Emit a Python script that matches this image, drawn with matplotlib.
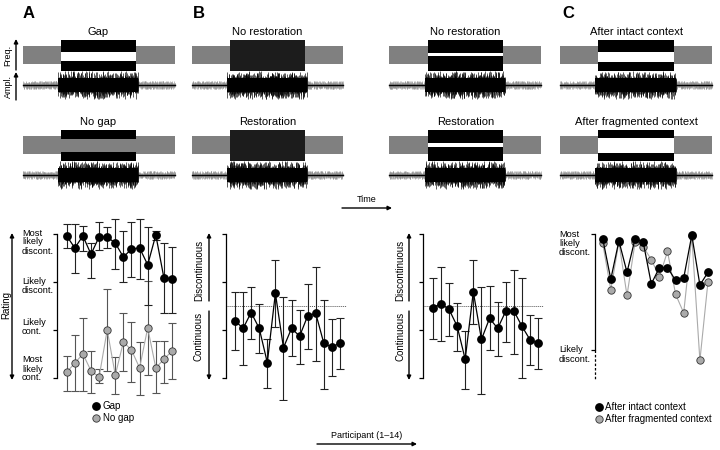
import numpy as np
import matplotlib
matplotlib.use('Agg')
import matplotlib.pyplot as plt
from matplotlib.patches import Rectangle
from matplotlib.lines import Line2D

plt.rcParams['font.family'] = ['Liberation Sans', 'DejaVu Sans']

W, H = 720, 450
participants = np.arange(1, 15)

# ---------------- data ----------------
# Panel A: rating scale 1 = most likely cont. ... 4 = most likely discont.
gap_mean = [3.96, 3.71, 3.96, 3.58, 3.94, 3.94, 3.81, 3.52, 3.69, 3.71, 3.36, 3.98, 3.09, 3.07]
gap_hi = [4.21, 4.21, 4.17, 3.81, 4.25, 4.15, 4.31, 4.06, 4.25, 4.31, 4.15, 4.06, 3.81, 3.73]
gap_lo = [3.71, 3.19, 3.65, 3.09, 3.67, 3.71, 3.27, 3.00, 3.11, 3.07, 2.53, 3.88, 2.36, 2.36]
nogap_mean = [1.13, 1.32, 1.51, 1.16, 1.03, 2.01, 1.07, 1.76, 1.59, 1.22, 2.05, 1.22, 1.40, 1.57]
nogap_hi = [1.47, 1.90, 2.26, 1.57, 1.20, 2.86, 1.45, 2.36, 2.17, 1.76, 3.02, 1.78, 1.78, 2.15]
nogap_lo = [0.74, 0.74, 0.74, 0.70, 0.91, 1.16, 0.68, 1.16, 0.93, 0.66, 1.07, 0.70, 0.91, 0.99]

# Panel B (left): restoration, wide-gap stimuli
restL_mean = [2.20, 2.04, 2.37, 2.04, 1.33, 2.77, 1.64, 2.04, 1.88, 2.30, 2.35, 1.73, 1.65, 1.74]
restL_hi = [2.80, 2.80, 2.89, 2.55, 1.81, 3.46, 2.70, 2.62, 2.42, 2.96, 3.32, 2.64, 2.23, 2.26]
restL_lo = [1.60, 1.27, 1.83, 1.52, 0.80, 2.06, 0.55, 1.47, 1.30, 1.61, 1.37, 0.78, 1.05, 1.20]

# Panel B (right): restoration, narrow-gap stimuli
restR_mean = [2.47, 2.55, 2.44, 2.09, 1.40, 2.80, 1.81, 2.25, 2.04, 2.40, 2.40, 2.08, 1.80, 1.73]
restR_hi = [3.08, 3.31, 2.98, 2.56, 1.99, 3.45, 2.89, 2.92, 2.59, 3.01, 3.25, 3.08, 2.32, 2.25]
restR_lo = [1.83, 1.78, 1.89, 1.58, 0.78, 2.13, 0.67, 1.59, 1.47, 1.75, 1.50, 1.00, 1.27, 1.19]

# Panel C: ratings after intact / fragmented context
intact = [3.96, 3.61, 3.94, 3.67, 3.96, 3.93, 3.57, 3.71, 3.71, 3.60, 3.62, 3.99, 3.56, 3.67]
fragmented = [3.92, 3.52, 3.93, 3.47, 3.93, 3.89, 3.78, 3.63, 3.85, 3.48, 3.32, 3.98, 2.91, 3.59]

ratingA_labels = ['Most\nlikely\ncont.', 'Likely\ncont.', 'Likely\ndiscont.', 'Most\nlikely\ndiscont.']
ratingC_labels = ['Likely\ndiscont.', 'Most\nlikely\ndiscont.']

GRAY = '#808080'
LGRAY = '#aaaaaa'

fig = plt.figure(figsize=(7.2, 4.5), dpi=100)

# overlay in pixel coordinates for schematics and annotations
ov = fig.add_axes([0, 0, 1, 1])
ov.set_xlim(0, W)
ov.set_ylim(H, 0)
ov.axis('off')


def waveform(x0, x1, lx0, lx1, yc, seed):
    n = 520
    x = np.linspace(x0, x1, n)
    i = np.arange(n) + seed * 1000
    n1 = (np.sin(i * 12.9898) * 43758.5453) % 1.0
    n2 = (np.sin(i * 78.233) * 12345.6789) % 1.0
    loud = (x >= lx0) & (x <= lx1)
    quiet = ~loud
    ov.vlines(x[quiet], yc - 1 - 3.2 * n1[quiet], yc + 1 + 3.2 * n2[quiet], color='#8a8a8a', lw=0.4)
    ov.plot([x0, lx0], [yc, yc], color='k', lw=1.0)
    ov.plot([lx1, x1], [yc, yc], color='k', lw=1.0)
    xl = x[loud]
    ov.fill_between(xl, yc - 7, yc + 7, color='k', lw=0)
    ov.vlines(xl, yc - 6 - 8 * n1[loud] ** 2, yc + 6 + 8 * n2[loud] ** 2, color='k', lw=0.45)


def schematic(gx0, gx1, bx0, bx1, top, block_color='k', white=None, graymid=None, title='', seed=0):
    ov.add_patch(Rectangle((gx0, top + 6), gx1 - gx0, 18, color=GRAY, lw=0))
    ov.add_patch(Rectangle((bx0, top), bx1 - bx0, 30.5, color=block_color, lw=0))
    if white is not None:
        ov.add_patch(Rectangle((bx0, top + white[0]), bx1 - bx0, white[1] - white[0], color='white', lw=0))
    if graymid is not None:
        ov.add_patch(Rectangle((bx0, top + graymid[0]), bx1 - bx0, graymid[1] - graymid[0], color=GRAY, lw=0))
    ov.text((bx0 + bx1) / 2, top - 8, title, ha='center', va='center', fontsize=8)
    waveform(gx0, gx1, bx0 - 3, bx1 + 2, top + 45, seed)


# Panel A schematics
schematic(23, 175, 61, 136, 40, white=(12.3, 21.3), title='Gap', seed=1)
schematic(23, 175, 61, 136, 130, graymid=(9.3, 21.7), title='No gap', seed=2)
# Panel B schematics
schematic(192, 343, 230, 305, 40, block_color='#1c1c1c', title='No restoration', seed=3)
schematic(192, 343, 230, 305, 130, block_color='#1c1c1c', title='Restoration', seed=4)
schematic(389, 541, 428, 503, 40, white=(12.7, 15.7), title='No restoration', seed=5)
schematic(389, 541, 428, 503, 130, white=(13.3, 17.0), title='Restoration', seed=6)
# Panel C schematics
schematic(560, 712, 598, 674, 40, white=(12.3, 22.3), title='After intact context', seed=7)
schematic(560, 712, 598, 674, 130, white=(8.3, 22.7), title='After fragmented context', seed=8)

# Panel letters
for lx, lt in [(29, 'A'), (198.5, 'B'), (568, 'C')]:
    ov.text(lx, 13.5, lt, ha='center', va='center', fontsize=12, fontweight='bold')

arrow_kw = dict(arrowstyle='-|>', lw=1.0, color='k', mutation_scale=6, shrinkA=0, shrinkB=0)
darrow_kw = dict(arrowstyle='<|-|>', lw=1.0, color='k', mutation_scale=6, shrinkA=0, shrinkB=0)

# Freq. / Ampl. axes
ov.annotate('', xy=(16, 39), xytext=(16, 70), arrowprops=arrow_kw)
ov.annotate('', xy=(16, 72), xytext=(16, 100), arrowprops=arrow_kw)
ov.text(8, 55, 'Freq.', rotation=90, ha='center', va='center', fontsize=6.5)
ov.text(8, 87, 'Ampl.', rotation=90, ha='center', va='center', fontsize=6.5)

# Time arrow
ov.text(367, 199, 'Time', ha='center', va='center', fontsize=6.5)
ov.annotate('', xy=(392, 208), xytext=(342, 208), arrowprops=arrow_kw)

# Participant arrow
ov.text(367, 436, 'Participant (1\u201314)', ha='center', va='center', fontsize=6.5)
ov.annotate('', xy=(417, 444), xytext=(317, 444), arrowprops=arrow_kw)

# Rating arrow (A)
ov.annotate('', xy=(12, 233), xytext=(12, 380), arrowprops=darrow_kw)
ov.text(6, 305, 'Rating', rotation=90, ha='center', va='center', fontsize=7)

# B arrows and labels
for ax_x, tx in [(209, 199), (409, 400)]:
    ov.annotate('', xy=(ax_x, 233), xytext=(ax_x, 301), arrowprops=arrow_kw)
    ov.annotate('', xy=(ax_x, 380), xytext=(ax_x, 311), arrowprops=arrow_kw)
    ov.text(tx, 270, 'Discontinuous', rotation=90, ha='center', va='center', fontsize=7)
    ov.text(tx, 336, 'Continuous', rotation=90, ha='center', va='center', fontsize=7)

# A tick labels
for yc, lab in zip([369, 327, 286, 242], ratingA_labels):
    ov.text(22, yc, lab, ha='left', va='center', multialignment='left', fontsize=6.7, linespacing=1.0)
# C tick labels
for yc, lab in zip([354.5, 243.5], ratingC_labels):
    ov.text(559, yc, lab, ha='left', va='center', multialignment='left', fontsize=6.7, linespacing=1.0)


# ---------------- data axes ----------------
def data_axes(spine, first, last, right, ylim, top=210, bot=400):
    sp = (last - first) / 13.0
    x0 = 1 - (first - spine) / sp
    x1 = 14 + (right - last) / sp
    ax = fig.add_axes([spine / W, 1 - bot / H, (right - spine) / W, (bot - top) / H])
    ax.patch.set_alpha(0)
    ax.set_xlim(x0, x1)
    ax.set_ylim(*ylim)
    for s in ['top', 'right', 'bottom']:
        ax.spines[s].set_visible(False)
    ax.spines['left'].set_linewidth(0.9)
    ax.set_xticks([])
    ax.tick_params(axis='y', length=3, width=0.9, labelleft=False)
    return ax


yA = (1 - (400 - 378.5) / 48.17, 1 + (378.5 - 210) / 48.17)

eb_black = dict(fmt='none', ecolor='#222222', elinewidth=0.8, capsize=3.2, capthick=0.8, zorder=2)
eb_gray = dict(fmt='none', ecolor='#555555', elinewidth=0.8, capsize=3.2, capthick=0.8, zorder=2)
mk_black = dict(color='k', lw=0.9, marker='o', ms=5.3, mfc='k', mec='k', zorder=4)
mk_gray = dict(color=LGRAY, lw=0.8, marker='o', ms=5.3, mfc=LGRAY, mec='#333333', mew=0.6, zorder=3)


def yerr(m, lo, hi):
    m = np.asarray(m)
    return [m - np.asarray(lo), np.asarray(hi) - m]


# Panel A
axA = data_axes(57, 66.7, 172, 180, yA)
axA.spines['left'].set_bounds(1, 4)
axA.set_yticks([1, 2, 3, 4])
axA.errorbar(participants, nogap_mean, yerr=yerr(nogap_mean, nogap_lo, nogap_hi), **eb_gray)
axA.errorbar(participants, gap_mean, yerr=yerr(gap_mean, gap_lo, gap_hi), **eb_black)
axA.plot(participants, nogap_mean, **mk_gray)
axA.plot(participants, gap_mean, **mk_black)
legA = [Line2D([], [], ls='none', marker='o', ms=5.3, mfc='k', mec='k'),
        Line2D([], [], ls='none', marker='o', ms=5.3, mfc=LGRAY, mec='#333333', mew=0.6)]
fig.legend(legA, ['Gap', 'No gap'], loc='upper left', bbox_to_anchor=(93 / W, 1 - 401 / H),
           frameon=False, fontsize=7, handlelength=0.7, handletextpad=0.3, labelspacing=0.25,
           borderpad=0, borderaxespad=0)

# Panel B
for (spine, first, last, right, dot_end, m, lo, hi) in [
        (226, 235, 340, 350, 346, restL_mean, restL_lo, restL_hi),
        (423, 432.7, 538.3, 545, 543, restR_mean, restR_lo, restR_hi)]:
    axB = data_axes(spine, first, last, right, yA)
    axB.spines['left'].set_bounds(1, 4)
    axB.set_yticks([1, 2, 3, 4])
    sp = (last - first) / 13.0
    xl = axB.get_xlim()
    axB.plot([xl[0], 14 + (dot_end - last) / sp], [2.5, 2.5], color='#555555', lw=0.7, ls=(0, (1, 1)), zorder=1)
    axB.errorbar(participants, m, yerr=yerr(m, lo, hi), **eb_black)
    axB.plot(participants, m, **mk_black)

# Panel C
yC = (3 + (350 - 400) / 116.0, 3 + (350 - 210) / 116.0)
axC = data_axes(595, 602.7, 708, 715, yC)
axC.spines['left'].set_bounds(3, 4)
axC.set_yticks([3, 4])
xlc = axC.get_xlim()
axC.plot([xlc[0], xlc[0]], [3, 3 - 30 / 116.0], color='k', lw=0.9, ls=(0, (2, 1.5)), clip_on=False)
axC.plot(participants, fragmented, **mk_gray)
axC.plot(participants, intact, **mk_black)
fig.legend(legA, ['After intact context', 'After fragmented context'], loc='upper left',
           bbox_to_anchor=(595.5 / W, 1 - 402 / H),
           frameon=False, fontsize=7, handlelength=0.7, handletextpad=0.3, labelspacing=0.25,
           borderpad=0, borderaxespad=0)

fig.savefig('out.png', dpi=100)
